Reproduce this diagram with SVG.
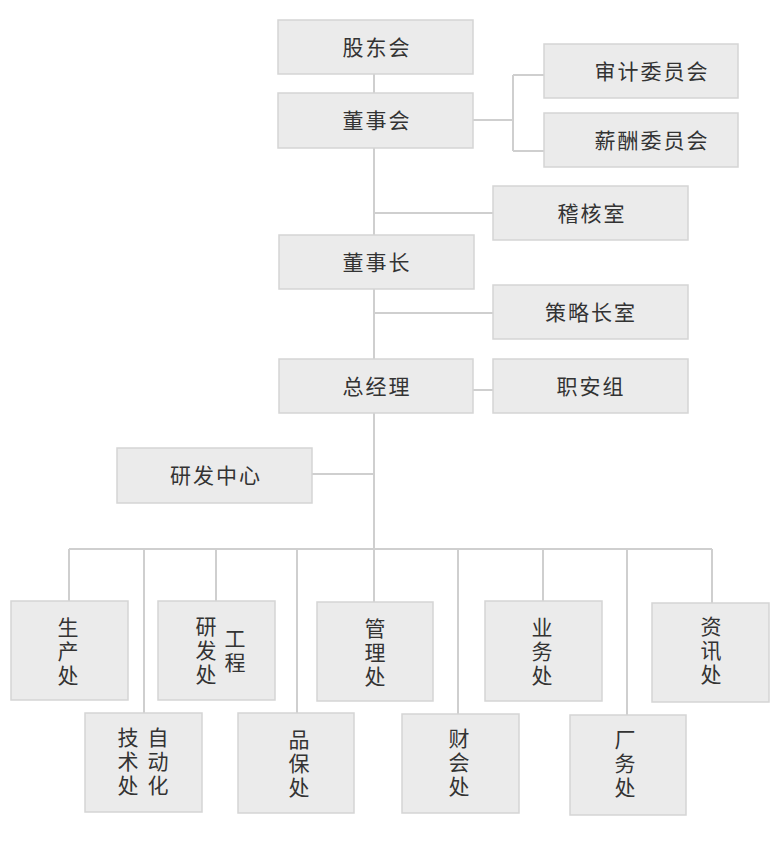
<svg xmlns="http://www.w3.org/2000/svg" width="780" height="841" viewBox="0 0 780 841">
<style>
.box{fill:#ebebeb;stroke:#d5d5d5;stroke-width:1.5}
.ln{stroke:#cfcfcf;stroke-width:2;fill:none}
text{font-family:"Noto Sans CJK SC","Noto Sans",sans-serif;font-size:21px;fill:#333;text-anchor:middle;dominant-baseline:central}
.h{letter-spacing:2px}
.v{writing-mode:vertical-rl;letter-spacing:3px}
</style>
<rect width="780" height="841" fill="#fff"/>
<g id="connectors" class="ln">
<path d="M374 74V549"/>
<path d="M473 120H513M513 75V151M513 75H544M513 151H544"/>
<path d="M374 213H493"/>
<path d="M374 313H493"/>
<path d="M473 390H493"/>
<path d="M312 474H374"/>
<path d="M69 549H712"/>
<path d="M69 549V601M144 549V713M216 549V601M297 549V713M374 549V602M458 549V714M543 549V601M627 549V715M712 549V603"/>
</g>
<g id="n-gudonghui"><rect class="box" x="278" y="20" width="195" height="54"/><text class="h" x="377" y="46">股东会</text></g>
<g id="n-dongshihui"><rect class="box" x="278" y="93" width="195" height="55"/><text class="h" x="377" y="119">董事会</text></g>
<g id="n-shenji"><rect class="box" x="544" y="44" width="194" height="54"/><text class="h" x="652" y="70">审计委员会</text></g>
<g id="n-xinchou"><rect class="box" x="544" y="113" width="194" height="54"/><text class="h" x="652" y="139">薪酬委员会</text></g>
<g id="n-jihe"><rect class="box" x="493" y="186" width="195" height="54"/><text class="h" x="592" y="212">稽核室</text></g>
<g id="n-dongshizhang"><rect class="box" x="279" y="235" width="195" height="54"/><text class="h" x="377" y="261">董事长</text></g>
<g id="n-celue"><rect class="box" x="493" y="285" width="195" height="54"/><text class="h" x="591" y="311">策略长室</text></g>
<g id="n-zongjingli"><rect class="box" x="279" y="359" width="194" height="54"/><text class="h" x="377" y="385">总经理</text></g>
<g id="n-zhian"><rect class="box" x="493" y="359" width="195" height="54"/><text class="h" x="591" y="385">职安组</text></g>
<g id="n-yanfazhongxin"><rect class="box" x="117" y="448" width="195" height="55"/><text class="h" x="216" y="474">研发中心</text></g>
<g id="n-shengchan"><rect class="box" x="11" y="601" width="117" height="99"/><text class="v" x="68" y="652.5">生产处</text></g>
<g id="n-yanfagongcheng"><rect class="box" x="158" y="601" width="117" height="99"/><text class="v" x="206" y="651.5">研发处</text><text class="v" x="235" y="651.5">工程</text></g>
<g id="n-guanli"><rect class="box" x="317" y="602" width="116" height="99"/><text class="v" x="375" y="653.5">管理处</text></g>
<g id="n-yewu"><rect class="box" x="485" y="601" width="117" height="100"/><text class="v" x="542" y="652.5">业务处</text></g>
<g id="n-zixun"><rect class="box" x="652" y="603" width="117" height="99"/><text class="v" x="711" y="651.5">资讯处</text></g>
<g id="n-zidonghua"><rect class="box" x="85" y="713" width="117" height="99"/><text class="v" x="128" y="762.5">技术处</text><text class="v" x="158" y="762.5">自动化</text></g>
<g id="n-pinbao"><rect class="box" x="238" y="713" width="116" height="100"/><text class="v" x="299" y="764.5">品保处</text></g>
<g id="n-caikuai"><rect class="box" x="402" y="714" width="117" height="99"/><text class="v" x="459" y="763.5">财会处</text></g>
<g id="n-changwu"><rect class="box" x="570" y="715" width="116" height="100"/><text class="v" x="625" y="764.5">厂务处</text></g>
</svg>
